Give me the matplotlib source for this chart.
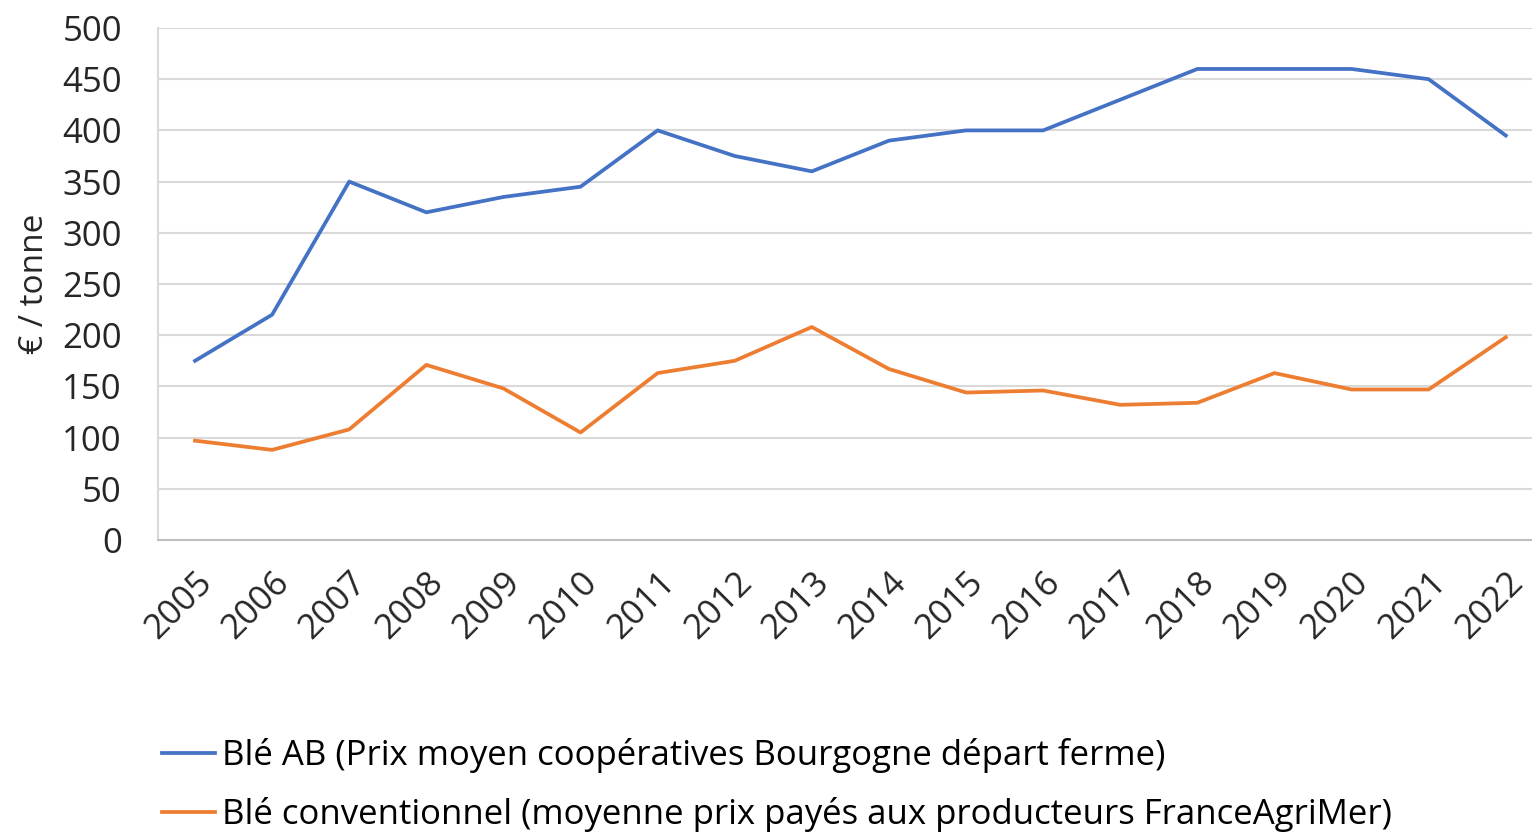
import matplotlib
matplotlib.use('Agg')
import matplotlib.pyplot as plt
import numpy as np

# data
years = [2005, 2006, 2007, 2008, 2009, 2010, 2011, 2012, 2013,
         2014, 2015, 2016, 2017, 2018, 2019, 2020, 2021, 2022]
ble_ab = [175, 220, 350, 320, 335, 345, 400, 375, 360,
          390, 400, 400, 430, 460, 460, 460, 450, 395]
ble_conv = [97, 88, 108, 171, 148, 105, 163, 175, 208,
            167, 144, 146, 132, 134, 163, 147, 147, 198]

label_ab = 'Blé AB (Prix moyen coopératives Bourgogne départ ferme)'
label_conv = 'Blé conventionnel (moyenne prix payés aux producteurs FranceAgriMer)'
y_ticks = [0, 50, 100, 150, 200, 250, 300, 350, 400, 450, 500]

plt.rcParams['font.family'] = ['Open Sans', 'DejaVu Sans']

fig = plt.figure(figsize=(15.32, 8.32), dpi=100)
ax = fig.add_axes([158/1532, 1 - 540/832, 1 - 158/1532, (540 - 28)/832])

ax.plot(years, ble_ab, color='#4472C4', linewidth=2.7, label=label_ab)
ax.plot(years, ble_conv, color='#ED7D31', linewidth=2.7, label=label_conv)

ax.set_xlim(2004.52, 2022.34)
ax.set_ylim(0, 500)
ax.set_yticks(y_ticks)
ax.set_xticks(years)
ax.set_xticklabels([str(y) for y in years], rotation=45, ha='right',
                   rotation_mode='anchor')

ax.tick_params(axis='both', length=0, labelsize=25, colors='#262626')
ax.tick_params(axis='y', pad=26)
ax.tick_params(axis='x', pad=18)

ax.grid(True, axis='y', color='#D9D9D9', linewidth=1.5)
ax.set_axisbelow(True)
for side in ['top', 'right']:
    ax.spines[side].set_visible(False)
ax.spines['left'].set_color('#D9D9D9')
ax.spines['left'].set_linewidth(1.5)
ax.spines['bottom'].set_color('#BFBFBF')
ax.spines['bottom'].set_linewidth(1.5)

ax.set_ylabel('€ / tonne', fontsize=24, color='#262626', labelpad=8)

fig.legend(loc='upper left', bbox_to_anchor=(131/1532, 1 - 707/832),
           frameon=False, fontsize=25, handlelength=1.53, handletextpad=0.2,
           labelspacing=0.69)

fig.savefig('out.png', dpi=100)
plt.close(fig)
